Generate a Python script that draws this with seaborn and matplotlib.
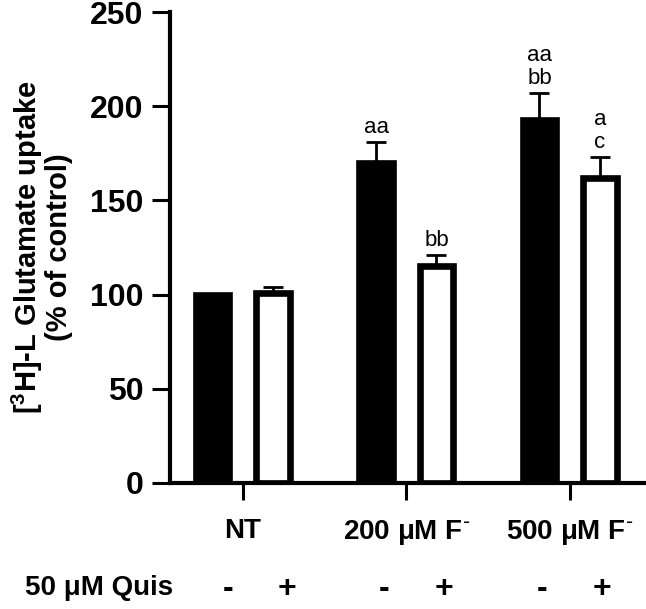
import numpy as np
import pandas as pd
import matplotlib
matplotlib.use("Agg")
import matplotlib.pyplot as plt
import seaborn as sns

# data
groups = ["NT", r"200 μM F$^{\text{-}}$", r"500 μM F$^{\text{-}}$"]
quis_levels = ["-", "+"]
mean_minus = [100, 170, 193]
mean_plus = [101, 115, 162]
sem_minus = [0, 11, 14]
sem_plus = [3, 6, 11]
labels_minus = ["", "aa", "aa\nbb"]
labels_plus = ["", "bb", "a\nc"]

df = pd.DataFrame({
    "group": groups * 2,
    "quis": ["-"] * 3 + ["+"] * 3,
    "uptake": mean_minus + mean_plus,
})

sns.set_style("ticks")
plt.rcParams["font.family"] = ["Liberation Sans", "DejaVu Sans"]
plt.rcParams["mathtext.default"] = "regular"
for k in ["text.color", "axes.labelcolor", "xtick.color", "ytick.color", "axes.edgecolor"]:
    plt.rcParams[k] = "black"

fig = plt.figure(figsize=(6.46, 6.09), dpi=100)
ax = fig.add_axes([0.263, 0.207, 0.735, 0.773])

sns.barplot(data=df, x="group", y="uptake", hue="quis", hue_order=quis_levels,
            palette=["black", "white"], edgecolor="black", linewidth=4.8,
            width=0.74, gap=0.45, errorbar=None, legend=False, ax=ax)

# upper-only error bars and letters, placed on the seaborn bars
bars = ax.patches
means = mean_minus + mean_plus
sems = sem_minus + sem_plus
letters = labels_minus + labels_plus
for p, m, s, t in zip(bars, means, sems, letters):
    xc = p.get_x() + p.get_width() / 2
    if s > 0:
        ax.errorbar(xc, m, yerr=[[0], [s]], fmt="none", ecolor="black",
                    elinewidth=2, capsize=7, capthick=2, zorder=1)
    if t:
        ax.annotate(t, (xc, m + s), xytext=(0, 3), textcoords="offset points",
                    ha="center", va="bottom", fontsize=16, linespacing=1.1)

ax.set_ylim(0, 250)
ax.set_xlim(-0.446, 2.459)
ax.set_yticks(np.arange(0, 251, 50))
ax.set_xlabel("")
ax.set_ylabel("[$^{3}$H]-L Glutamate uptake\n(% of control)", fontsize=21,
              fontweight="bold", labelpad=12, linespacing=1.0)
for side in ["top", "right"]:
    ax.spines[side].set_visible(False)
for side in ["left", "bottom"]:
    ax.spines[side].set_linewidth(3)
ax.tick_params(axis="y", length=13, width=2.2, pad=6, labelsize=23)
ax.tick_params(axis="x", length=12, width=2.2, pad=13, labelsize=20)
for lab in ax.get_xticklabels() + ax.get_yticklabels():
    lab.set_fontweight("bold")

# Quis row under the axis
trans = matplotlib.transforms.blended_transform_factory(ax.transData, fig.transFigure)
fig.text(0.039, 0.035, "50 μM Quis", fontsize=20, fontweight="bold",
         ha="left", va="center")
sign_x = [-0.09, 0.27, 0.865, 1.23, 1.83, 2.196]
signs = ["-", "+", "-", "+", "-", "+"]
for sx, sg in zip(sign_x, signs):
    ax.text(sx, 0.033, sg, transform=trans, fontsize=23, fontweight="bold",
            ha="center", va="center")

fig.savefig("out.png", dpi=100)
